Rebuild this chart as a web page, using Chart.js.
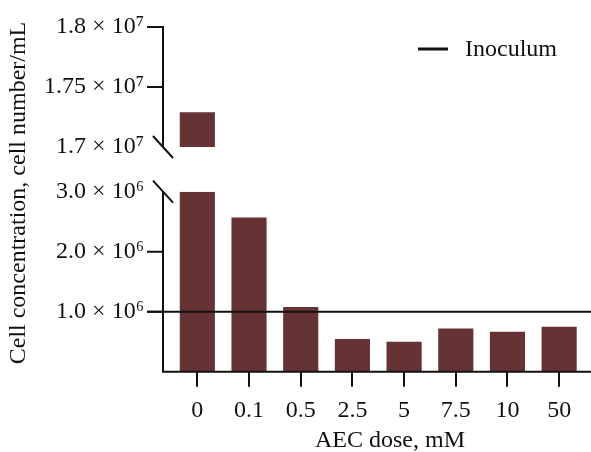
<!DOCTYPE html>
<html>
<head>
<meta charset="utf-8">
<script src="https://cdn.jsdelivr.net/npm/chart.js@4.4.1/dist/chart.umd.min.js"></script>
<style>
  html, body { margin: 0; padding: 0; background: #fff; }
  #wrap { width: 591px; height: 452px; }
</style>
</head>
<body>
<div id="wrap"><canvas id="cellChart"></canvas></div>
<script>
    // AEC dose (mM) vs cell concentration
    const doses = ['0', '0.1', '0.5', '2.5', '5', '7.5', '10', '50'];
    const cellConc = [1.729e7, 2.57e6, 1.08e6, 0.545e6, 0.50e6, 0.72e6, 0.667e6, 0.75e6];
    const inoculum = 1.0e6;

    // broken y axis: lower and upper segment
    const lowRange = [0, 3.0e6];
    const topRange = [1.7e7, 1.8e7];
    const lowTicks = [1.0e6, 2.0e6, 3.0e6];
    const lowTickLabels = ['1.0 × 10⁶', '2.0 × 10⁶', '3.0 × 10⁶'];
    const topTicks = [1.7e7, 1.75e7, 1.8e7];
    const topTickLabels = ['1.7 × 10⁷', '1.75 × 10⁷', '1.8 × 10⁷'];

    const barColor = '#653334';
    const inkColor = '#111';
    const serif = '"Liberation Serif", "Times New Roman", serif';

    // bars split between the two segments
    const lowVals = cellConc.map(v => Math.min(v, lowRange[1]));
    const topVals = cellConc.map(v => v > topRange[0] ? [topRange[0], v] : null);

    const axisDecor = {
        id: 'axisDecor',
        afterDatasetsDraw(chart) {
            const {ctx, chartArea, scales, width} = chart;
            const yT = scales.yTop, yL = scales.yLow;
            const axisX = chartArea.left - 8.5;
            const tickLen = 16;

            ctx.save();
            ctx.strokeStyle = inkColor;
            ctx.lineWidth = 2;
            ctx.lineCap = 'butt';

            // axis lines
            ctx.beginPath();
            ctx.moveTo(axisX, yT.getPixelForValue(topRange[1]) - 1);
            ctx.lineTo(axisX, yT.getPixelForValue(topRange[0]));
            ctx.moveTo(axisX, yL.getPixelForValue(lowRange[1]));
            ctx.lineTo(axisX, chartArea.bottom + 1);
            ctx.moveTo(axisX - 1, chartArea.bottom);
            ctx.lineTo(width, chartArea.bottom);
            ctx.stroke();

            // tick marks (the break values get a slash instead)
            ctx.beginPath();
            topTicks.slice(1).forEach(v => {
                const y = yT.getPixelForValue(v);
                ctx.moveTo(axisX - tickLen, y);
                ctx.lineTo(axisX, y);
            });
            lowTicks.slice(0, -1).forEach(v => {
                const y = yL.getPixelForValue(v);
                ctx.moveTo(axisX - tickLen, y);
                ctx.lineTo(axisX, y);
            });
            ctx.stroke();

            // break slashes
            ctx.beginPath();
            [yT.getPixelForValue(topRange[0]), yL.getPixelForValue(lowRange[1])].forEach(y => {
                ctx.moveTo(axisX - 10, y - 11);
                ctx.lineTo(axisX + 10, y + 11);
            });
            ctx.stroke();

            // inoculum level
            const yi = yL.getPixelForValue(inoculum);
            ctx.beginPath();
            ctx.moveTo(axisX - tickLen, yi);
            ctx.lineTo(width, yi);
            ctx.stroke();

            // legend
            ctx.lineWidth = 3;
            ctx.beginPath();
            ctx.moveTo(418, 49);
            ctx.lineTo(448, 49);
            ctx.stroke();
            ctx.fillStyle = inkColor;
            ctx.font = '24px ' + serif;
            ctx.textAlign = 'left';
            ctx.textBaseline = 'middle';
            ctx.fillText('Inoculum', 465, 50);

            // axis titles
            ctx.textAlign = 'center';
            ctx.fillText('AEC dose, mM', 390, 441);
            ctx.translate(19, 193);
            ctx.rotate(-Math.PI / 2);
            ctx.fillText('Cell concentration, cell number/mL', 0, 0);
            ctx.restore();
        }
    };

    function fixedWidth(scale) {
        scale.width = 171.5;
        scale.paddingTop = 0;
        scale.paddingBottom = 0;
    }

    const ctx = document.getElementById('cellChart').getContext('2d');
    new Chart(ctx, {
        type: 'bar',
        data: {
            labels: doses,
            datasets: [{
                data: lowVals,
                yAxisID: 'yLow',
                grouped: false,
                backgroundColor: barColor,
                barPercentage: 0.68,
                categoryPercentage: 1
            }, {
                data: topVals,
                yAxisID: 'yTop',
                grouped: false,
                backgroundColor: barColor,
                barPercentage: 0.68,
                categoryPercentage: 1
            }]
        },
        options: {
            responsive: true,
            maintainAspectRatio: false,
            animation: false,
            layout: { padding: { top: 27, right: 6, left: 0, bottom: 0 } },
            plugins: {
                legend: { display: false },
                tooltip: { enabled: false }
            },
            scales: {
                x: {
                    offset: true,
                    grid: { offset: false, drawOnChartArea: false, drawTicks: true, tickLength: 15, lineWidth: 2, color: inkColor },
                    border: { display: false },
                    ticks: { color: inkColor, font: { family: serif, size: 24 }, padding: 10, maxRotation: 0 },
                    afterFit: scale => { scale.height = 80.3; }
                },
                yLow: {
                    type: 'linear',
                    position: 'left',
                    stack: 'y',
                    stackWeight: 180,
                    min: lowRange[0],
                    max: lowRange[1],
                    grid: { display: false, drawTicks: false },
                    border: { display: false },
                    afterBuildTicks: scale => { scale.ticks = lowTicks.map(v => ({ value: v })); },
                    ticks: {
                        color: inkColor,
                        font: { family: serif, size: 24 },
                        padding: 27.5,
                        callback: (v, i) => lowTickLabels[i]
                    },
                    afterFit: fixedWidth
                },
                yTop: {
                    type: 'linear',
                    position: 'left',
                    stack: 'y',
                    stackWeight: 164.7,
                    min: 1.66275e7,
                    max: topRange[1],
                    grid: { display: false, drawTicks: false },
                    border: { display: false },
                    afterBuildTicks: scale => { scale.ticks = topTicks.map(v => ({ value: v })); },
                    ticks: {
                        color: inkColor,
                        font: { family: serif, size: 24 },
                        padding: 27.5,
                        callback: (v, i) => topTickLabels[i]
                    },
                    afterFit: fixedWidth
                }
            }
        },
        plugins: [axisDecor]
    });
</script>
</body>
</html>
